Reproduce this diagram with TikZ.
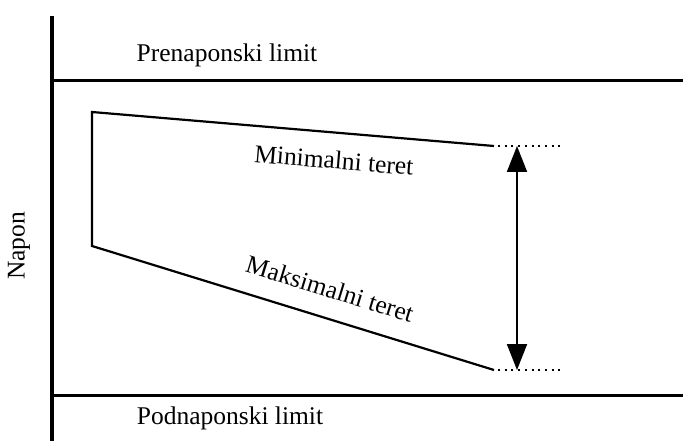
\documentclass[tikz,border=0pt]{standalone}
\usepackage{fontspec}
\setmainfont{Liberation Serif}
\usetikzlibrary{arrows.meta}
\tikzset{
  lbl/.style={font=\fontsize{25.5}{28}\selectfont, inner sep=0pt},
  axis/.style={line width=3.5pt},
  limit/.style={line width=3pt},
  curve/.style={line width=2.2pt, line join=miter},
  guide/.style={line width=2pt, dash pattern=on 2pt off 4.7pt, dash phase=-4pt},
  spanarrow/.style={line width=2pt, {Triangle[length=26pt,width=20pt]}-{Triangle[length=26pt,width=20pt]}}
}
\begin{document}
\begin{tikzpicture}[x=1pt,y=-1pt]
\useasboundingbox (0,0) rectangle (683,441);
% axis and limits
\coordinate (axT) at (52,16);
\coordinate (axB) at (52,441);
\coordinate (upL) at (52,81);
\coordinate (upR) at (683,81);
\coordinate (loL) at (52,395);
\coordinate (loR) at (683,395);
\draw[axis] (axT) -- (axB);
\draw[limit] (upL) -- (upR);
\draw[limit] (loL) -- (loR);
% load characteristic
\coordinate (minS) at (92,112);
\coordinate (minE) at (494,146);
\coordinate (maxS) at (92,246);
\coordinate (maxE) at (494,370);
\draw[curve] (minE) -- (minS) -- (maxS) -- (maxE);
\coordinate (minD) at (563,146);
\coordinate (maxD) at (563,370);
\draw[guide] (minE) -- (minD);
\draw[guide] (maxE) -- (maxD);
\coordinate (arT) at (517,146);
\coordinate (arB) at (517,370);
\draw[spanarrow] (arT) -- (arB);
% labels
\node[lbl] (pre) at (227,55) {Prenaponski limit};
\node[lbl] (pod) at (230,418) {Podnaponski limit};
\node[lbl, rotate=90] (nap) at (19,246) {Napon};
\node[lbl, rotate=-4.8] (minl) at (334,160) {Minimalni teret};
\node[lbl, rotate=-17] (maxl) at (330,289) {Maksimalni teret};
\end{tikzpicture}
\end{document}
